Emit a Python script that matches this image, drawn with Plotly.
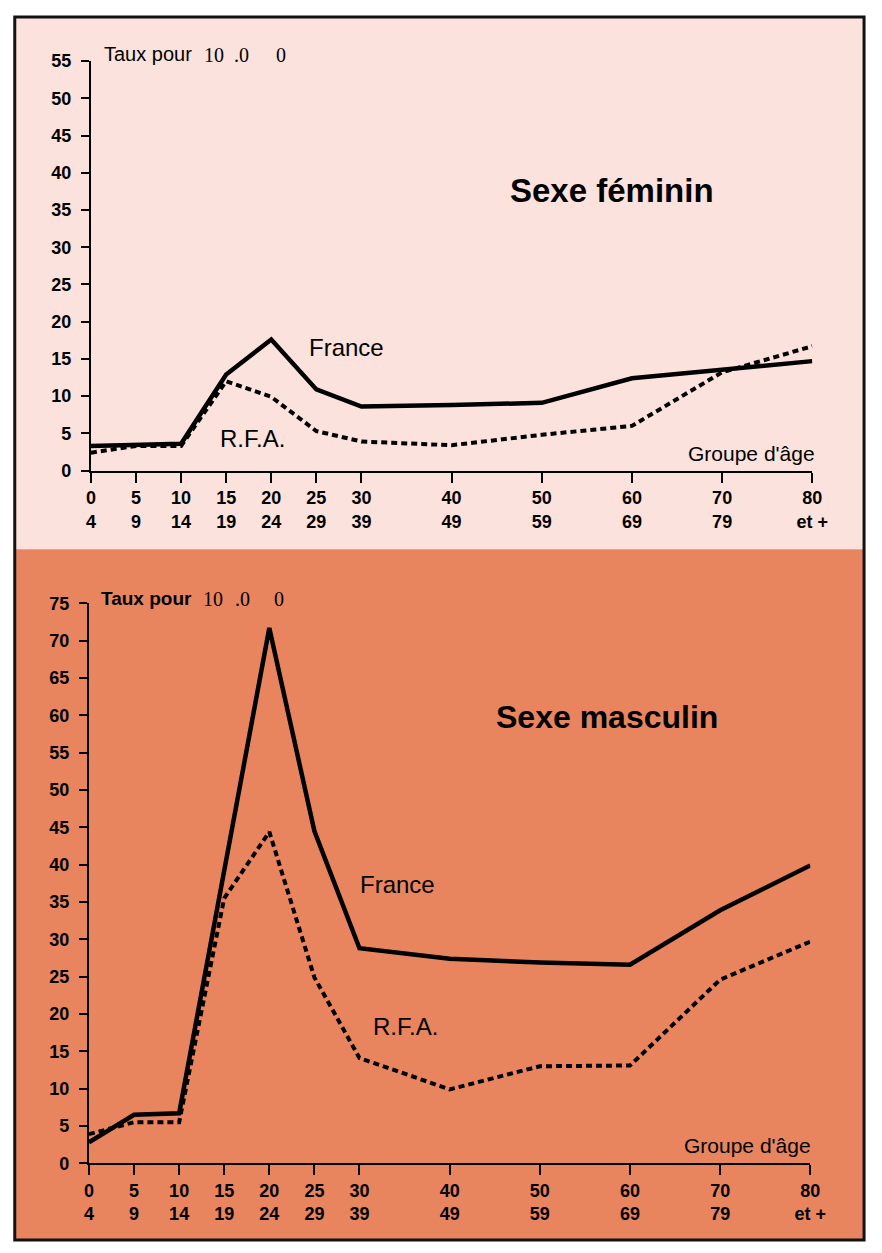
import plotly.graph_objects as go

W, H = 882, 1253

age_start = [0, 5, 10, 15, 20, 25, 30, 40, 50, 60, 70, 80]
age_labels = ["0<br>4", "5<br>9", "10<br>14", "15<br>19", "20<br>24", "25<br>29",
              "30<br>39", "40<br>49", "50<br>59", "60<br>69", "70<br>79", "80<br>et +"]

fem_france = [3.3, 3.4, 3.6, 12.9, 17.6, 10.9, 8.6, 8.8, 9.1, 12.4, 13.6, 14.7]
fem_rfa = [2.4, 3.3, 3.3, 12.0, 9.9, 5.3, 3.9, 3.4, 4.8, 6.0, 13.2, 16.7]

masc_france = [2.8, 6.5, 6.7, 39.0, 71.7, 44.5, 28.8, 27.4, 26.9, 26.6, 33.9, 39.9]
masc_rfa = [3.9, 5.5, 5.5, 35.5, 44.4, 24.9, 14.1, 9.9, 13.0, 13.1, 24.6, 29.7]

fem_yticks = list(range(0, 56, 5))
masc_yticks = list(range(0, 76, 5))

PINK = "#fce2dc"
ORANGE = "#e8855f"
FONT = "Liberation Sans, Arial, sans-serif"
NARROW = "Liberation Sans Narrow, Arial Narrow, Liberation Sans, sans-serif"


def px(x):
    return x / W


def py(y):
    return 1 - y / H


fig = go.Figure()

solid = dict(color="black", width=4.5)
dotted = dict(color="black", width=4, dash="6px,4px")

fig.add_trace(go.Scatter(x=age_start, y=fem_france, mode="lines", line=solid,
                         xaxis="x", yaxis="y", showlegend=False, name="France"))
fig.add_trace(go.Scatter(x=age_start, y=fem_rfa, mode="lines", line=dotted,
                         xaxis="x", yaxis="y", showlegend=False, name="R.F.A."))
fig.add_trace(go.Scatter(x=age_start, y=masc_france, mode="lines", line=solid,
                         xaxis="x2", yaxis="y2", showlegend=False, name="France"))
fig.add_trace(go.Scatter(x=age_start, y=masc_rfa, mode="lines", line=dotted,
                         xaxis="x2", yaxis="y2", showlegend=False, name="R.F.A."))

tickfont = dict(family=NARROW, size=18, color="black", weight="bold")

xcommon = dict(range=[0, 80], tickmode="array", tickvals=age_start, ticktext=age_labels,
               showgrid=False, zeroline=False, showline=True, linecolor="black",
               linewidth=2, ticks="outside", ticklen=10, tickwidth=2, tickcolor="black",
               tickfont=tickfont, fixedrange=True)
ycommon = dict(showgrid=False, zeroline=False, showline=True, linecolor="black",
               linewidth=2, ticks="outside", ticklen=8, tickwidth=2, tickcolor="black",
               tickfont=tickfont, tickmode="array", fixedrange=True, ticklabelstandoff=6)

fig.update_layout(
    width=W, height=H, autosize=False,
    margin=dict(l=0, r=0, t=0, b=0),
    paper_bgcolor="white", plot_bgcolor="rgba(0,0,0,0)",
    hovermode=False,
    xaxis=dict(domain=[px(88), px(827)], anchor="y", **xcommon),
    yaxis=dict(domain=[py(468), py(52)], anchor="x", range=[0, 55],
               tickvals=fem_yticks, **ycommon),
    xaxis2=dict(domain=[px(86), px(825)], anchor="y2", **xcommon),
    yaxis2=dict(domain=[py(1172), py(603)], anchor="x2", range=[0, 75],
                tickvals=masc_yticks, **ycommon),
)

shapes = [
    dict(type="rect", xref="paper", yref="paper", x0=px(10), x1=px(880), y0=py(548), y1=py(7),
         fillcolor=PINK, line=dict(width=0), layer="below"),
    dict(type="rect", xref="paper", yref="paper", x0=px(10), x1=px(880), y0=py(1250), y1=py(548),
         fillcolor=ORANGE, line=dict(width=0), layer="below"),
    dict(type="rect", xref="paper", yref="paper", x0=px(10), x1=px(880), y0=py(1250), y1=py(7),
         fillcolor="rgba(0,0,0,0)", line=dict(color="#111", width=3), layer="above"),
]
fig.update_layout(shapes=shapes)


def ann(text, x, y, size, xanchor="center", bold=False, family=FONT, yanchor="middle"):
    return dict(text=text, x=px(x), y=py(y), xref="paper", yref="paper",
                xanchor=xanchor, yanchor=yanchor, showarrow=False,
                font=dict(family=family, size=size, color="black",
                          weight="bold" if bold else "normal"))


SERIF = "Liberation Serif, Times New Roman, serif"
annotations = [
    ann("Sexe féminin", 622, 183, 33, bold=True),
    ann("Sexe masculin", 617, 718, 32, bold=True),
    ann("France", 350, 343, 24),
    ann("R.F.A.", 254, 435, 24),
    ann("Groupe d'âge", 832, 451, 21, xanchor="right"),
    ann("France", 402, 889, 24),
    ann("R.F.A.", 410, 1033, 24),
    ann("Groupe d'âge", 828, 1154, 21, xanchor="right"),
    ann("Taux pour", 99, 45, 20, xanchor="left"),
    ann("10", 202, 46, 20, xanchor="left", family=SERIF),
    ann(".0", 233, 46, 20, xanchor="left", family=SERIF),
    ann("0", 276, 46, 20, xanchor="left", family=SERIF),
    ann("Taux pour", 96, 598, 19, xanchor="left", bold=True),
    ann("10", 201, 599, 20, xanchor="left", family=SERIF),
    ann(".0", 234, 599, 20, xanchor="left", family=SERIF),
    ann("0", 273, 599, 20, xanchor="left", family=SERIF),
]
fig.update_layout(annotations=annotations)

post = """
document.documentElement.style.margin='0';
document.documentElement.style.padding='0';
document.documentElement.style.overflow='hidden';
document.body.style.margin='0';
document.body.style.padding='0';
document.body.style.overflow='hidden';
"""

fig.write_html("out.html", config={"displayModeBar": False}, post_script=post)
